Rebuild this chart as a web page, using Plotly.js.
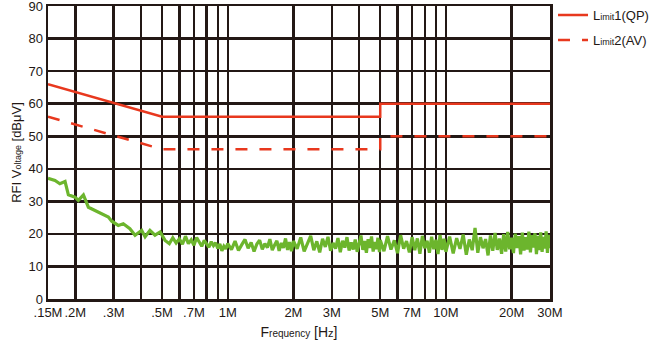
<!DOCTYPE html>
<html>
<head>
<meta charset="utf-8">
<script src="https://cdn.plot.ly/plotly-3.0.1.min.js"></script>
<style>html,body{margin:0;padding:0;background:#fff;}#chart{width:665px;height:341px;}</style>
</head>
<body>
<div id="chart"></div>
<script>
// Frequencies in MHz
const limitFreq = [0.15, 0.5, 5, 5, 30];
const limit1QP = [66, 56, 56, 60, 60];
const limit2AV = [56, 46, 46, 50, 50];

const measFreq = [
  0.150, 0.1615, 0.170, 0.1796, 0.186, 0.1995, 0.2066, 0.218, 0.2297, 0.2466,
  0.2646, 0.2837, 0.294, 0.315, 0.332, 0.356, 0.376, 0.403, 0.418, 0.440,
  0.464, 0.490, 0.516, 0.540,
  0.56, 0.58, 0.60, 0.62, 0.64, 0.66, 0.68, 0.70, 0.72, 0.74, 0.76, 0.78, 0.80,
  0.82, 0.84, 0.86, 0.88, 0.90, 0.92, 0.94, 0.96, 0.98, 1.00,
  1.04, 1.08, 1.12, 1.16, 1.20, 1.24, 1.28, 1.32, 1.36, 1.40, 1.44, 1.48, 1.52,
  1.56, 1.60, 1.64, 1.68, 1.72, 1.76, 1.80, 1.84, 1.88, 1.92, 1.96, 2.00,
  2.08, 2.16, 2.24, 2.32, 2.40, 2.48, 2.56, 2.64, 2.72, 2.80, 2.88, 2.96, 3.04,
  3.12, 3.20, 3.28, 3.36, 3.44, 3.52, 3.60, 3.68, 3.76, 3.84, 3.92, 4.00, 4.08,
  4.16, 4.24, 4.32, 4.40, 4.48, 4.56, 4.64, 4.72, 4.80, 4.88, 4.96,
  5.0, 5.2, 5.4, 5.6, 5.8, 6.0, 6.2, 6.4, 6.6, 6.8, 7.0, 7.2, 7.4, 7.6, 7.8,
  8.0, 8.2, 8.4, 8.6, 8.8, 9.0, 9.2, 9.4, 9.6, 9.8, 10.0,
  10.4, 10.8, 11.2, 11.6, 12.0, 12.4, 12.8, 13.2, 13.6, 14.0, 14.4, 14.8, 15.2,
  15.6, 16.0, 16.4, 16.8, 17.2, 17.6, 18.0, 18.4, 18.8, 19.2, 19.6, 20.0, 20.4,
  20.8, 21.2, 21.6, 22.0, 22.4, 22.8, 23.2, 23.6, 24.0, 24.4, 24.8, 25.2, 25.6,
  26.0, 26.4, 26.8, 27.2, 27.6, 28.0, 28.4, 28.8, 29.2, 29.6, 30.0
];
const measLevel = [
  37.1, 36.4, 35.4, 36.1, 32.0, 31.3, 30.3, 32.0, 28.2, 27.2,
  26.2, 25.2, 23.9, 22.6, 23.1, 21.6, 19.6, 21.1, 19.1, 21.1,
  19.6, 20.6, 18.0, 17.0,
  18.8, 17.2, 18.5, 16.8, 19.3, 17.0, 18.2, 16.5, 18.9, 17.4, 16.2, 18.0, 17.1,
  15.9, 17.6, 16.4, 17.3, 15.5, 16.9, 14.8, 16.2, 15.4, 17.0,
  15.2, 17.8, 14.9, 16.7, 18.3, 15.6, 17.4, 14.6, 16.9, 18.1, 15.3, 17.0, 15.8,
  18.4, 15.0, 16.6, 17.9, 14.8, 17.2, 15.7, 18.6, 15.1, 17.5, 14.7, 17.8,
  15.4, 18.9, 14.6, 17.3, 19.4, 15.0, 17.7, 14.3, 18.5, 16.0, 19.1, 14.8, 17.2,
  15.5, 18.7, 14.4, 17.9, 15.8, 19.0, 14.9, 17.4, 15.2, 18.3, 14.5, 17.6, 19.5,
  15.1, 17.8, 14.2, 18.4, 15.7, 19.2, 14.6, 17.5, 15.3, 18.8, 14.4,
  18.1, 14.7, 19.3, 15.2, 18.0, 14.1, 19.6, 15.5, 17.8, 14.3, 19.0, 15.0, 18.6, 13.9, 19.4,
  15.6, 17.9, 14.2, 19.1, 15.3, 18.2, 13.8, 19.7, 15.1, 18.5, 14.5,
  19.2, 14.0, 18.7, 15.4, 19.8, 13.6, 18.3, 15.0, 21.8, 14.2, 19.0, 15.6, 18.4,
  13.4, 19.5, 14.8, 20.3, 15.1, 18.6, 13.9, 19.9, 14.6, 20.6, 15.3, 18.8, 14.1,
  20.1, 15.7, 19.3, 13.7, 20.4, 14.9, 19.0, 15.2, 20.7, 14.3, 19.6, 15.8, 20.2,
  13.8, 19.4, 15.0, 20.5, 14.5, 19.1, 15.5, 20.8, 14.2, 19.7, 15.6
];

const xTickVals = [0.15, 0.2, 0.3, 0.4, 0.5, 0.6, 0.7, 0.8, 0.9, 1, 2, 3, 4, 5, 6, 7, 8, 9, 10, 20, 30];
const xTickText = ['.15M', '.2M', '.3M', '', '.5M', '', '.7M', '', '', '1M', '2M', '3M', '', '5M', '', '7M', '', '', '10M', '20M', '30M'];
const yTickVals = [0, 10, 20, 30, 40, 50, 60, 70, 80, 90];

const gridColor = '#231815';
const red = '#e8381e';
const green = '#6cb52d';
const small = (t, s) => '<span style="font-size:' + s + 'px">' + t + '</span>';

const traces = [
  {
    x: measFreq, y: measLevel, type: 'scatter', mode: 'lines',
    line: {color: green, width: 3.2}, showlegend: false, hoverinfo: 'skip'
  },
  {
    x: limitFreq, y: limit1QP, type: 'scatter', mode: 'lines',
    name: 'L' + small('imit', 9) + '1(QP)', legendgroup: 'a',
    line: {color: red, width: 2.5}
  },
  {
    x: limitFreq, y: limit2AV, type: 'scatter', mode: 'lines',
    name: 'L' + small('imit', 9) + '2(AV)', legendgroup: 'b',
    line: {color: red, width: 2.5, dash: '12px,12px'}
  }
];

const layout = {
  width: 665, height: 341,
  margin: {l: 48, r: 115, t: 6, b: 42, autoexpand: false},
  paper_bgcolor: '#fff', plot_bgcolor: '#fff',
  font: {family: 'Liberation Sans, Arial, sans-serif', size: 13, color: '#231815'},
  xaxis: {
    type: 'log', range: [Math.log10(0.15), Math.log10(30)],
    tickmode: 'array', tickvals: xTickVals, ticktext: xTickText, tickangle: 0,
    showgrid: true, gridcolor: gridColor, gridwidth: 2.5,
    showline: true, linecolor: gridColor, linewidth: 2.5, mirror: true,
    ticks: '', zeroline: false, fixedrange: true, automargin: false,
    ticklabeloverflow: 'allow',
    title: {text: 'F' + small('requency', 10) + ' [H' + small('z', 11) + ']', font: {size: 14}, standoff: 8}
  },
  yaxis: {
    range: [0, 90.02], tickmode: 'array', tickvals: yTickVals,
    showgrid: true, gridcolor: gridColor, gridwidth: 2.5,
    showline: true, linecolor: gridColor, linewidth: 2.5, mirror: true,
    ticks: '', zeroline: false, fixedrange: true, automargin: false,
    ticklabeloverflow: 'allow',
    title: {text: 'RFI V' + small('oltage', 9) + ' [dBμV]', font: {size: 13}, standoff: 4}
  },
  legend: {
    x: 1.006, xanchor: 'left', y: 1.02, yanchor: 'top',
    font: {size: 13, color: '#231815'}, tracegroupgap: 5,
    bgcolor: 'rgba(0,0,0,0)'
  },
  showlegend: true
};

Plotly.newPlot('chart', traces, layout, {displayModeBar: false, staticPlot: true});
</script>
</body>
</html>
